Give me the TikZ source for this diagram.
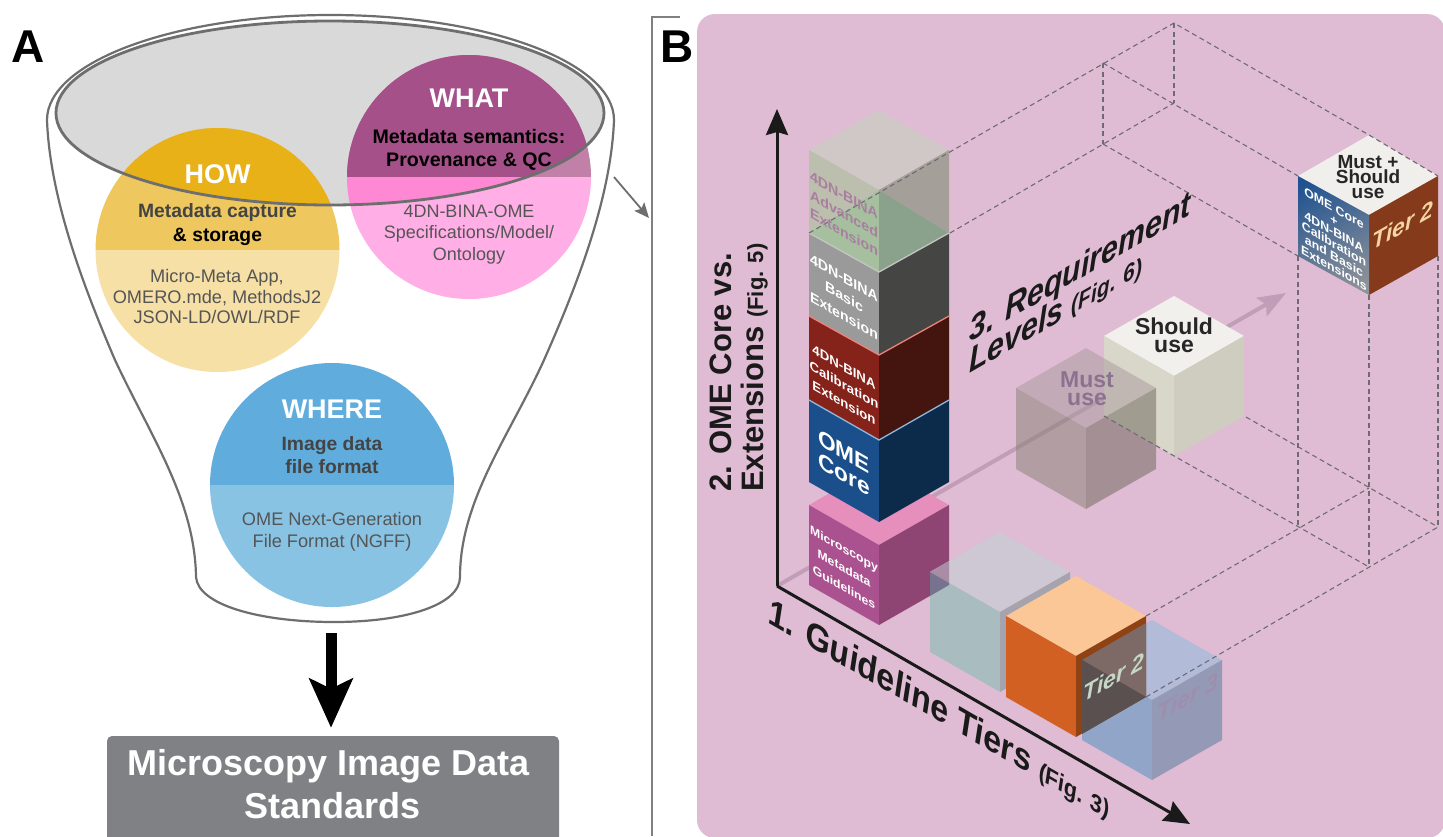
\documentclass[tikz,border=0pt]{standalone}
\usepackage{fontspec}
\setmainfont{Liberation Sans}
\usetikzlibrary{arrows.meta,shapes.geometric}
\definecolor{panelpink}{HTML}{DFBCD3}
\definecolor{lineg}{HTML}{6E6E6E}
\definecolor{bracketg}{HTML}{808080}
\definecolor{funnelg}{HTML}{D9D9D9}
\definecolor{howd}{HTML}{E8B118}
\definecolor{howm}{HTML}{EEC85E}
\definecolor{howl}{HTML}{F6E0A6}
\definecolor{whatd}{HTML}{A65089}
\definecolor{whatm}{HTML}{C080A8}
\definecolor{whatp}{HTML}{FF88D4}
\definecolor{whatl}{HTML}{FFAEE6}
\definecolor{whered}{HTML}{60ADDD}
\definecolor{wherel}{HTML}{88C3E4}
\definecolor{stdg}{HTML}{808184}
\definecolor{axisk}{HTML}{1A1A1A}
\definecolor{reqc}{HTML}{C19DB8}
\definecolor{dashc}{HTML}{6F6B72}
\definecolor{txtd}{HTML}{444444}
\definecolor{txtm}{HTML}{555555}
\newcommand{\fs}[2]{\fontsize{#1}{#2}\selectfont}
\newcommand{\cubeface}[6]{%
  \fill[#4] (#1,#2) -- ({#1+70},{#2+40}) -- (#1,{#2+80}) -- ({#1-70},{#2+40}) -- cycle;
  \fill[#5] ({#1-70},{#2+40}) -- (#1,{#2+80}) -- (#1,{#2+80+#3}) -- ({#1-70},{#2+40+#3}) -- cycle;
  \fill[#6] ({#1+70},{#2+40}) -- (#1,{#2+80}) -- (#1,{#2+80+#3}) -- ({#1+70},{#2+40+#3}) -- cycle;}
\tikzset{
  txt/.style={anchor=base,inner sep=0pt,font=\fs{#1}{#1}},
  btxt/.style={anchor=base,inner sep=0pt,font=\fs{#1}{#1}\bfseries},
  lface/.style={transform shape,cm={1,-.575,0,1,(#1)},inner sep=0pt,align=center},
  rface/.style={transform shape,cm={1,.575,0,1,(#1)},inner sep=0pt,align=center},
  dashl/.style={draw=dashc,line width=1.1pt,dash pattern=on 5pt off 3.5pt},
  axisl/.style={draw=axisk,line width=3pt,-{Stealth[length=26pt,width=22pt,inset=3pt]}},
  funnell/.style={draw=lineg,line width=2.2pt},
}
\begin{document}
\begin{tikzpicture}[x=1pt,y=-1pt]
\useasboundingbox (0,0) rectangle (1443,836);
\clip (0,0) rectangle (1443,836);
\fill[white] (0,0) rectangle (1443,836);
% ---------- Panel A
\node[btxt=46] (labA) at (28,62) {A};
\fill[funnelg] (330,113) ellipse [x radius=274,y radius=92];
% HOW
\begin{scope}
\clip (217.5,250) circle [radius=122];
\fill[howm] (90,120) rectangle (345,250);
\fill[howl] (90,250) rectangle (345,380);
\clip (330,113) ellipse [x radius=274,y radius=92];
\fill[howd] (90,120) rectangle (345,250);
\end{scope}
% WHAT
\begin{scope}
\clip (469,177) circle [radius=122];
\fill[whatm] (340,50) rectangle (600,177);
\fill[whatl] (340,177) rectangle (600,305);
\clip (330,113) ellipse [x radius=274,y radius=92];
\fill[whatd] (340,50) rectangle (600,177);
\fill[whatp] (340,177) rectangle (600,305);
\end{scope}
% WHERE
\begin{scope}
\clip (332,485) circle [radius=122];
\fill[whered] (205,360) rectangle (460,485);
\fill[wherel] (205,485) rectangle (460,610);
\end{scope}
\draw[funnell,line width=2.8pt] (330,113) ellipse [x radius=274,y radius=92];
\draw[funnell] (47,120) .. controls (47,62) and (174,15) .. (330.5,15)
  .. controls (487,15) and (614,62) .. (614,120)
  .. controls (611,200) and (575,290) .. (544,360)
  .. controls (510,435) and (460,500) .. (460,577)
  .. controls (460,605) and (405,622) .. (334,622)
  .. controls (260,622) and (198,605) .. (196,577)
  .. controls (195,500) and (150,435) .. (115,360)
  .. controls (85,290) and (50,200) .. (47,120);
% texts A
\node[btxt=27,white] (how) at (217.5,183) {HOW};
\node[btxt=19.3,txtd] (how1) at (217.5,217) {Metadata capture};
\node[btxt=19.3,black] (how2) at (217.5,241) {\& storage};
\node[txt=18.2,txtm] (how3) at (217,282) {Micro-Meta App,};
\node[txt=18.2,txtm] (how4) at (217,303) {OMERO.mde, MethodsJ2};
\node[txt=18.2,txtm] (how5) at (217,323) {JSON-LD/OWL/RDF};
\node[btxt=27,white] (what) at (469,107) {WHAT};
\node[btxt=19.6,black] (what1) at (469,143) {Metadata semantics:};
\node[btxt=19.6,black] (what2) at (469,166) {Provenance \& QC};
\node[txt=18,txtm] (what3) at (469,217) {4DN-BINA-OME};
\node[txt=18,txtm] (what4) at (469,238) {Specifications/Model/};
\node[txt=18,txtm] (what5) at (469,260) {Ontology};
\node[btxt=27,white] (where) at (332,418) {WHERE};
\node[btxt=19.3,txtd] (where1) at (332,450) {Image data};
\node[btxt=19.3,txtd] (where2) at (332,473) {file format};
\node[txt=18.2,txtm] (where3) at (332,525) {OME Next-Generation};
\node[txt=18.2,txtm] (where4) at (332,547) {File Format (NGFF)};
% output box
\node[fill=stdg,rounded corners=5pt,minimum width=452pt,minimum height=120pt,inner sep=0pt] (std) at (333,796) {};
\node[btxt=36,white] (std1) at (328.5,775) {Microscopy Image Data};
\node[btxt=36,white] (std2) at (332.5,818) {Standards};
\coordinate (funnelout) at (331,633);
\draw[black,line width=11pt,-{Stealth[length=49pt,width=43pt,inset=10pt]}] (funnelout) -- (funnelout |- std.north) [shorten >=8pt];
% bracket and zoom arrow
\draw[bracketg,line width=2pt] (680,17) -- (652,17) -- (652,836);
\coordinate (zoomA) at (614,177);
\coordinate (zoomB) at (649,218);
\draw[lineg,line width=1.8pt,-{Stealth[length=15pt,width=13pt,inset=3pt]}] (zoomA) -- (zoomB);
% ---------- Panel B
\fill[panelpink,rounded corners=18pt] (697,14) rectangle (1445,838);
\node[btxt=46] (labB) at (677,62) {B};
\coordinate (orig) at (777,586);
\coordinate (ytip) at (777,109);
\coordinate (xtip) at (1190,824);
\coordinate (ztip) at (1286,293);
\draw[draw=reqc,line width=4pt,-{Stealth[length=28pt,width=21pt,inset=5pt]}] (orig) -- (ztip);
\draw[axisl] (orig) -- (ytip);
\draw[axisl] (orig) -- (xtip);
% Stack: guidelines
\cubeface{879}{465}{80}{fill={rgb,255:red,230;green,143;blue,189}}{fill={rgb,255:red,169;green,82;blue,143}}{fill={rgb,255:red,142;green,69;blue,115}}
% OME core
\fill[fill={rgb,255:red,26;green,79;blue,140}] (809,400) -- (879,440) -- (879,522) -- (809,482) -- cycle;
\fill[fill={rgb,255:red,12;green,42;blue,74}] (949,400) -- (879,440) -- (879,522) -- (949,482) -- cycle;
% calibration
\fill[fill={rgb,255:red,133;green,35;blue,27}] (809,316) -- (879,355) -- (879,440) -- (809,400) -- cycle;
\fill[fill={rgb,255:red,68;green,20;blue,14}] (949,316) -- (879,355) -- (879,440) -- (949,400) -- cycle;
\draw[draw={rgb,255:red,143;green,185;blue,221},line width=1.3pt] (809,400) -- (879,440) -- (949,400);
% basic
\fill[fill={rgb,255:red,154;green,154;blue,154}] (809,233) -- (879,272) -- (879,355) -- (809,316) -- cycle;
\fill[fill={rgb,255:red,69;green,69;blue,67}] (949,233) -- (879,272) -- (879,355) -- (949,316) -- cycle;
\draw[draw={rgb,255:red,232;green,132;blue,122},line width=1.3pt] (809,316) -- (879,355) -- (949,316);
% advanced
\fill[fill={rgb,255:red,207;green,200;blue,198}] (879,110) -- (949,150) -- (879,190) -- (809,150) -- cycle;
\fill[fill={rgb,255:red,188;green,190;blue,174}] (809,150) -- (879,190) -- (809,233) -- cycle;
\fill[fill={rgb,255:red,165;green,191;blue,159}] (809,233) -- (879,190) -- (879,272) -- cycle;
\fill[fill={rgb,255:red,164;green,159;blue,152}] (879,190) -- (949,150) -- (949,233) -- cycle;
\fill[fill={rgb,255:red,138;green,162;blue,139}] (879,190) -- (949,233) -- (879,272) -- cycle;
\draw[draw={rgb,255:red,196;green,196;blue,196},line width=1.3pt] (809,233) -- (879,272) -- (949,233);
% Should use / Must use
\cubeface{1174}{296}{80}{fill={rgb,255:red,241;green,240;blue,236}}{fill={rgb,255:red,217;green,214;blue,202}}{fill={rgb,255:red,207;green,205;blue,191}}
\cubeface{1086}{348}{81}{fill={rgb,255:red,169;green,154;blue,157},fill opacity=.5}{fill={rgb,255:red,135;green,128;blue,117},fill opacity=.5}{fill={rgb,255:red,107;green,100;blue,87},fill opacity=.5}
% Tier 1
\cubeface{1000}{532}{80}{fill={rgb,255:red,205;green,200;blue,212}}{fill={rgb,255:red,169;green,188;blue,192}}{fill={rgb,255:red,165;green,163;blue,174}}
\fill[fill={rgb,255:red,169;green,140;blue,165}] (930,572) -- (949,561) -- (949,583) -- cycle;
\fill[fill={rgb,255:red,119;green,115;blue,142}] (930,572) -- (949,583) -- (949,585) -- (930,596) -- cycle;
% Tier 3 (under orange left)
\cubeface{1152}{620}{80}{fill={rgb,255:red,178;green,188;blue,217}}{fill={rgb,255:red,145;green,165;blue,201}}{fill={rgb,255:red,148;green,153;blue,182}}
% Orange
\cubeface{1076}{576}{81}{fill={rgb,255:red,252;green,199;blue,150}}{fill={rgb,255:red,211;green,96;blue,35}}{fill={rgb,255:red,143;green,66;blue,20}}
\fill[fill={rgb,255:red,125;green,106;blue,102}] (1082,660) -- (1146,623) -- (1146,697) -- cycle;
\fill[fill={rgb,255:red,90;green,80;blue,80}] (1082,660) -- (1146,697) -- (1082,734) -- cycle;
% Tier 2 upper right
\fill[fill={rgb,255:red,240;green,239;blue,235}] (1369,135) -- (1438,176) -- (1369,215) -- (1298,176) -- cycle;
\fill[fill={rgb,255:red,132;green,58;blue,27}] (1438,176) -- (1369,215) -- (1369,295) -- (1438,256) -- cycle;
\begin{scope}
\clip (1298,176) -- (1369,215) -- (1369,295) -- (1298,256) -- cycle;
\shade[shading=axis,top color={rgb,255:red,31;green,82;blue,145},bottom color={rgb,255:red,143;green,146;blue,152},shading angle=30] (1280,170) rectangle (1385,300);
\end{scope}
% dashed frame
\coordinate (A) at (1174,23); \coordinate (B) at (1103,63);
\coordinate (C) at (1174,103); \coordinate (D) at (1103,144);
\draw[dashl] (809,233) -- (A) -- (1369,135) -- (1438,176);
\draw[dashl] (950,233) -- (C);
\draw[dashl] (A) -- (C);
\draw[dashl] (B) -- (D);
\draw[dashl] (B) -- (1298,176);
\draw[dashl] (D) -- (1298,256);
\coordinate (P1) at (1298,527); \coordinate (P2) at (1369,567);
\coordinate (P3) at (1438,527); \coordinate (P4) at (1369,488);
\draw[dashl] (1298,256) -- (P1);
\draw[dashl] (1369,295) -- (P2);
\draw[dashl] (1438,256) -- (P3);
\draw[dashl] (1246,417) -- (P3);
\draw[dashl] (1104,416) -- (P2);
\draw[dashl] (1146,616) -- (P4);
\draw[dashl] (1146,697) -- (P3);
% stack texts
\node[lface={844,214},text={rgb,255:red,169;green,126;blue,160},font=\fs{14.2}{18.5}\bfseries] (advT) {4DN-BINA\\Advanced\\Extension};
\node[lface={844,297},white,font=\fs{14.2}{19}\bfseries] (basT) {4DN-BINA\\Basic\\Extension};
\node[lface={844,385},white,font=\fs{13.2}{18}\bfseries] (calT) {4DN-BINA\\Calibration\\Extension};
\node[lface={844,463},white,font=\fs{22.7}{23}\bfseries] (omeT) {OME\\Core};
\node[lface={844,568},white,font=\fs{12.2}{19.5}\bfseries] (micT) {Microscopy\\Metadata\\Guidelines};
\node[lface={1334,238},white,font=\fs{12.3}{12}\bfseries] (t2T) {OME Core\\+\\4DN-BINA\\Calibration\\and Basic\\Extensions};
\node[rface={1403,225},text={rgb,255:red,245;green,214;blue,160},font=\fs{23}{23}\bfseries\itshape] (t2r) {Tier 2};
\node[rface={1114,677},text={rgb,255:red,197;green,216;blue,200},font=\fs{23}{23}\bfseries\itshape] (t2m) {Tier 2};
\node[rface={1188,697},text={rgb,255:red,158;green,142;blue,174},font=\fs{23}{23}\bfseries\itshape] (t3) {Tier 3};
% face labels on top
\node[btxt=23,black!85] (sh1) at (1174,334) {Should};
\node[btxt=23,black!85] (sh2) at (1174,352) {use};
\node[btxt=23,text={rgb,255:red,139;green,115;blue,144}] (mu1) at (1087,387) {Must};
\node[btxt=23,text={rgb,255:red,139;green,115;blue,144}] (mu2) at (1087,405) {use};
\node[btxt=19,black!85] (ms1) at (1368,168) {Must +};
\node[btxt=19,black!85] (ms2) at (1368,183) {Should};
\node[btxt=19,black!85] (ms3) at (1368,198) {use};
% axis labels
\node[btxt=31,axisk,rotate=90,anchor=base west] (y1) at (731,492) {2. OME Core vs.};
\node[btxt=31,axisk,rotate=90,anchor=base west] (y2) at (763,492) {Extensions {\fs{22}{22}(Fig. 5)}};
\node[transform shape,cm={.866,.5,0,1,(969,343)},anchor=base west,inner sep=0pt,axisk,font=\fs{35}{35}\bfseries\itshape] (z1) {3. Requirement};
\node[transform shape,cm={.866,.5,0,1,(969,374)},anchor=base west,inner sep=0pt,axisk,font=\fs{35}{35}\bfseries\itshape] (z2) {Levels {\fs{24}{24}(Fig. 6)}};
\node[transform shape,cm={.866,-.5,.15,.98,(767,622)},anchor=base west,inner sep=0pt,axisk,font=\fs{36}{36}\bfseries] (x1) {1. Guideline Tiers {\fs{24}{24}(Fig. 3)}};
\end{tikzpicture}
\end{document}
